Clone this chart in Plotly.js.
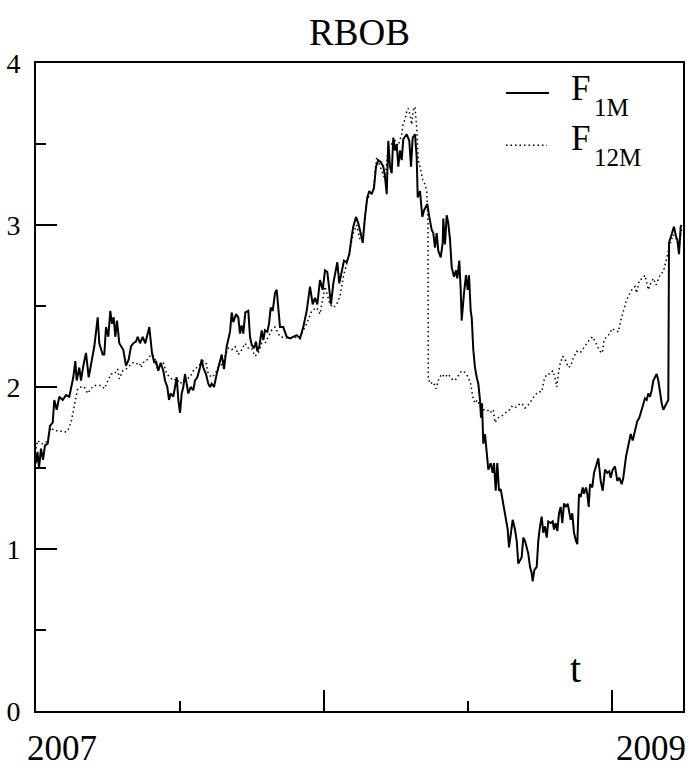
<!DOCTYPE html>
<html>
<head>
<meta charset="utf-8">
<script src="https://cdn.plot.ly/plotly-3.0.1.min.js"></script>
<style>html,body{margin:0;padding:0;background:#fff;}#chart{width:691px;height:768px;}</style>
</head>
<body>
<div id="chart"></div>
<script>
// Trading-day index (approx.) and price for the 1-month future
const f1mX = [0,1.5,3,5,7,9,11.7,14,16.7,18.3,20.7,23.3,26.7,30,33.3,35,37.3,39.3,40.7,43.3,45,47.3,50,52.7,55,58.3,61.7,63.3,66.7,68.3,70,72.3,74.3,76,77.7,79.3,81,83.3,87.3,90,92.7,95,97.3,100,101.7,104,106.7,109.3,111.7,113.3,116,118.3,120,122.3,124.7,127.3,129,131.3,133,134.7,137.3,139,140.7,142.3,144,145.7,147.3,149,150.7,152.3,154.7,157.3,159,161.3,164,165.7,167.3,170,172.3,174,175.7,178,180.7,184,185.7,188,190.7,194,195.7,197.3,200,202.3,204,205.7,207.3,209.3,212.3,214,215.7,218,220,221.3,223.3,225.7,227.3,229,231.3,233,234.7,236.7,239,240.7,242.3,244,247.3,250.7,254,257.3,260.7,264,267.3,270.7,274,276.7,279,281.3,284,286.7,289,291.3,293.3,295,297.3,299.7,301.3,303.3,305.7,308,310.7,313.3,315.7,317.3,320,322.3,324.7,326.7,329,331.3,333.3,335.7,338,340,342.3,344.7,347.3,349,350.7,352.3,354,355.7,357.3,359,360.7,362.3,364,365.7,367.3,370.7,373.3,375,376.7,379,380.7,381.7,384,386.3,388,390,391.3,393.3,395.7,397.3,399,400.7,402.3,404.7,406.7,407.3,409,410.7,412.3,414,415.7,418,420,421.3,423.3,424.7,425.7,428,430,431.7,433,434.7,435.7,437.3,439,440.7,442.3,444,445,446,447.3,449,450.7,452.3,454.7,456.7,458,459.7,461.3,463,464.7,466.7,468,470,471.7,473,474.7,476.7,479,480.7,482.3,484,485.7,487.3,489,490.7,492.3,494,495.7,496.7,498.3,500.7,502.3,504,505.7,507.3,509,510.7,512.3,514.7,516.7,518,519.7,521.3,523,524.7,526.3,528,530,531.7,533.3,534.7,536.3,538,540,541.3,543,544.7,546.7,548,550,551.3,552.7,554,556.3,558,560,562.3,564.7,566.7,569,571.3,573.3,574.7,576.7,579,581.3,583.3,585.7,587.3,590,592.3,594.7,596.7,599,601.3,603.3,605.7,607.3,609,610.7,612.3,614,615.7,617.3,619,620.7,622.3,624,625.7,627.3,629,630.7,632.3,633,634.7,636.7,638,640,641.3,643,644.7,645.7];
const f1mY = [1.53,1.60,1.50,1.62,1.55,1.64,1.65,1.76,1.78,1.92,1.86,1.94,1.92,1.95,1.94,2.00,2.06,2.16,2.04,2.12,2.04,2.13,2.21,2.06,2.14,2.25,2.43,2.27,2.20,2.20,2.37,2.31,2.47,2.39,2.43,2.31,2.41,2.27,2.23,2.13,2.17,2.25,2.27,2.28,2.31,2.27,2.31,2.27,2.33,2.37,2.21,2.15,2.16,2.10,2.15,2.10,2.04,2.00,1.92,1.96,1.94,2.00,2.06,1.92,1.84,1.96,2.00,2.08,2.00,1.96,2.00,1.98,2.04,2.06,2.12,2.17,2.12,2.08,2.02,2.00,2.02,2.00,2.08,2.16,2.20,2.11,2.25,2.34,2.46,2.40,2.45,2.43,2.33,2.38,2.33,2.46,2.47,2.31,2.26,2.24,2.28,2.22,2.25,2.35,2.29,2.35,2.34,2.39,2.49,2.47,2.58,2.60,2.47,2.37,2.37,2.31,2.30,2.31,2.32,2.30,2.37,2.47,2.62,2.51,2.55,2.51,2.66,2.60,2.72,2.71,2.60,2.51,2.64,2.72,2.77,2.64,2.72,2.78,2.77,2.82,2.93,2.99,3.05,3.01,2.95,2.89,3.05,3.17,3.21,3.19,3.23,3.36,3.40,3.39,3.36,3.30,3.19,3.52,3.36,3.32,3.54,3.46,3.50,3.36,3.46,3.40,3.53,3.56,3.52,3.36,3.54,3.56,3.42,3.17,3.21,3.05,3.09,3.11,3.13,3.05,2.97,2.95,2.86,2.95,2.84,2.80,2.89,3.04,2.88,3.06,3.01,2.91,2.74,2.68,2.72,2.67,2.78,2.60,2.41,2.58,2.69,2.60,2.69,2.47,2.43,2.23,2.12,2.06,2.02,1.92,1.81,1.90,1.65,1.71,1.59,1.49,1.53,1.47,1.53,1.36,1.53,1.36,1.37,1.30,1.24,1.18,1.12,1.01,1.10,1.18,1.12,1.05,0.91,0.93,0.95,1.07,1.05,1.01,0.97,0.89,0.85,0.80,0.87,0.89,1.05,1.14,1.20,1.10,1.14,1.07,1.17,1.16,1.17,1.12,1.16,1.11,1.22,1.26,1.16,1.28,1.26,1.28,1.22,1.18,1.22,1.10,1.05,1.03,1.34,1.32,1.38,1.34,1.38,1.34,1.26,1.40,1.38,1.47,1.51,1.56,1.42,1.36,1.49,1.47,1.48,1.44,1.49,1.51,1.42,1.44,1.40,1.44,1.57,1.63,1.71,1.67,1.73,1.79,1.81,1.86,1.88,1.93,1.92,1.96,1.94,1.98,2.04,2.06,2.08,2.04,1.96,1.90,1.86,1.88,1.90,1.92,2.89,2.93,2.96,2.99,2.93,2.91,2.82,2.99,3.00];

// 12-month future
const f12mX = [0,1.7,5,8.3,11.7,15,18.3,23.3,28.3,31.7,35,37.3,39.3,41.7,45,48.3,51.7,55,58.3,61.7,65,68.3,71.7,75,78.3,81.7,83.3,86.7,90,93.3,96.7,100,103.3,105,108.3,111.7,115,118.3,120.7,124,127.3,130.7,134,137.3,140.7,144,147.3,150.7,154,157.3,160.7,164,167.3,170,172.3,175.7,179,182.3,185.7,189,192.3,195.7,199,202.3,205.7,209,212.3,215.7,219,222.3,225.7,229,232.3,235.7,239,244,254,264,270.7,275.7,280.7,284,289,294,297.3,300.7,304,307.3,312.3,317.3,320.7,324,327.3,330.7,334,337.3,340.7,345.7,349,352.3,355.7,359,362.3,365.7,367.3,369,370.7,372.3,374,375.7,377.3,379,380.7,382.3,384.7,386.7,389,390.7,392,392.3,394,397.3,400,402.3,405.7,409,412.3,415.7,419,422.3,425.7,429,432.3,434.7,436.7,439,441.3,444,447.3,451.3,454,457.3,459,462.3,465.7,469,472.3,475.7,479,482.3,485.7,489,492.3,495.7,499,502.3,505.7,508,510.7,514,516.7,519,520.7,522.3,524,526.7,530,532.3,534.7,537.3,540.7,544,547.3,550.7,553.3,556.7,559,561.3,564,566.3,568,570.7,574,575.7,579,582.3,584.7,587.3,590.7,594,596.7,599,600.7,603.3,606.7,609,610.7,612.3,614.7,617.3,620,622.3,624.7,627.3,630,631.7,634,637,640,643,645.7];
const f12mY = [1.62,1.67,1.65,1.65,1.67,1.75,1.73,1.73,1.72,1.73,1.78,1.86,1.92,1.99,2.00,2.00,1.96,1.99,2.01,2.01,2.01,1.99,2.04,2.08,2.08,2.11,2.05,2.10,2.11,2.13,2.15,2.14,2.15,2.12,2.16,2.17,2.20,2.19,2.12,2.12,2.15,2.08,2.06,2.04,2.05,2.02,2.04,2.05,2.06,2.10,2.12,2.14,2.16,2.15,2.08,2.06,2.08,2.12,2.14,2.19,2.24,2.23,2.25,2.20,2.23,2.27,2.24,2.24,2.19,2.21,2.27,2.27,2.31,2.35,2.37,2.31,2.30,2.31,2.39,2.47,2.49,2.45,2.62,2.51,2.49,2.51,2.56,2.68,2.80,2.95,3.00,2.91,2.95,3.15,3.19,3.21,3.42,3.34,3.28,3.48,3.50,3.52,3.49,3.56,3.63,3.65,3.70,3.72,3.68,3.62,3.71,3.73,3.60,3.40,3.34,3.28,3.25,3.21,3.01,2.06,2.02,2.03,1.99,2.04,2.08,2.06,2.08,2.05,2.04,2.07,2.10,2.09,2.06,2.02,1.94,1.90,1.92,1.88,1.86,1.86,1.84,1.86,1.78,1.81,1.82,1.84,1.85,1.88,1.87,1.89,1.90,1.87,1.89,1.92,1.95,1.97,1.97,2.04,2.08,2.08,2.10,2.06,2.00,2.08,2.14,2.19,2.16,2.12,2.13,2.18,2.22,2.21,2.24,2.27,2.29,2.31,2.28,2.25,2.22,2.21,2.29,2.31,2.33,2.36,2.35,2.34,2.41,2.46,2.54,2.58,2.61,2.62,2.58,2.66,2.67,2.69,2.64,2.60,2.64,2.67,2.63,2.66,2.70,2.71,2.78,2.82,2.88,2.94,2.92,2.86,2.98];

const seriesNames = ['F1M', 'F12M'];
const yearLabels = ['2007', '2009'];
const chartTitle = 'RBOB';
const axisLabel = 't';

const SERIF = '"Liberation Serif", "Times New Roman", Times, "DejaVu Serif", serif';

const traces = [
  {x: f1mX, y: f1mY, type: 'scatter', mode: 'lines', name: seriesNames[0],
   line: {color: '#000', width: 2}},
  {x: f12mX, y: f12mY, type: 'scatter', mode: 'lines', name: seriesNames[1],
   line: {color: '#000', width: 1.5, dash: '1.5px,3px'}}
];

const W = 647, H = 648;
function px(x) { return (x - 36) / W; }
function py(y) { return (710.7 - y) / H; }

const ann = (text, x, y, size, xanchor) => ({
  text: text, x: x, y: y, xref: 'paper', yref: 'paper', showarrow: false,
  xanchor: xanchor || 'center', yanchor: 'middle',
  font: {family: SERIF, size: size, color: '#000'}
});

const layout = {
  width: 691, height: 768,
  margin: {l: 36, r: 8, t: 63, b: 57, pad: 0},
  paper_bgcolor: '#fff', plot_bgcolor: '#fff',
  showlegend: false,
  font: {family: SERIF, color: '#000'},
  title: {text: chartTitle, x: 0.5, xref: 'paper', xanchor: 'center',
          y: 1 - 32 / 768, yref: 'container', yanchor: 'middle',
          font: {family: SERIF, size: 37, color: '#000'}},
  xaxis: {range: [0, 647], tick0: 0, dtick: 288, ticks: 'inside', ticklen: 21, tickwidth: 2,
          tickcolor: '#000', showticklabels: false, showgrid: false, zeroline: false,
          showline: true, linecolor: '#000', linewidth: 2, mirror: true,
          minor: {tick0: 0, dtick: 144, ticks: 'inside', ticklen: 10, tickwidth: 2, tickcolor: '#000', showgrid: false}},
  yaxis: {range: [0, 4], tick0: 0, dtick: 1, ticks: 'inside', ticklen: 21, tickwidth: 2,
          tickcolor: '#000', showgrid: false, zeroline: false, ticklabelstandoff: 8,
          tickfont: {family: SERIF, size: 28, color: '#000'},
          showline: true, linecolor: '#000', linewidth: 2, mirror: true,
          minor: {tick0: 0, dtick: 0.5, ticks: 'inside', ticklen: 10, tickwidth: 2, tickcolor: '#000', showgrid: false}},
  annotations: [
    ann('F', px(569), py(88.5), 35, 'left'),
    ann('1M', px(592), py(107), 25, 'left'),
    ann('F', px(569), py(138.5), 35, 'left'),
    ann('12M', px(592), py(157), 25, 'left'),
    ann(axisLabel, px(575), py(668), 40),
    ann(yearLabels[0], px(62), py(748), 35),
    ann(yearLabels[1], px(651), py(748), 35)
  ],
  shapes: [
    {type: 'line', xref: 'paper', yref: 'paper', x0: px(506), x1: px(549), y0: py(92.7), y1: py(92.7),
     line: {color: '#000', width: 2}},
    {type: 'line', xref: 'paper', yref: 'paper', x0: px(506), x1: px(547), y0: py(145), y1: py(145),
     line: {color: '#000', width: 1.5, dash: '1.5px,3px'}}
  ]
};

Plotly.newPlot('chart', traces, layout, {displayModeBar: false, staticPlot: true});
</script>
</body>
</html>
